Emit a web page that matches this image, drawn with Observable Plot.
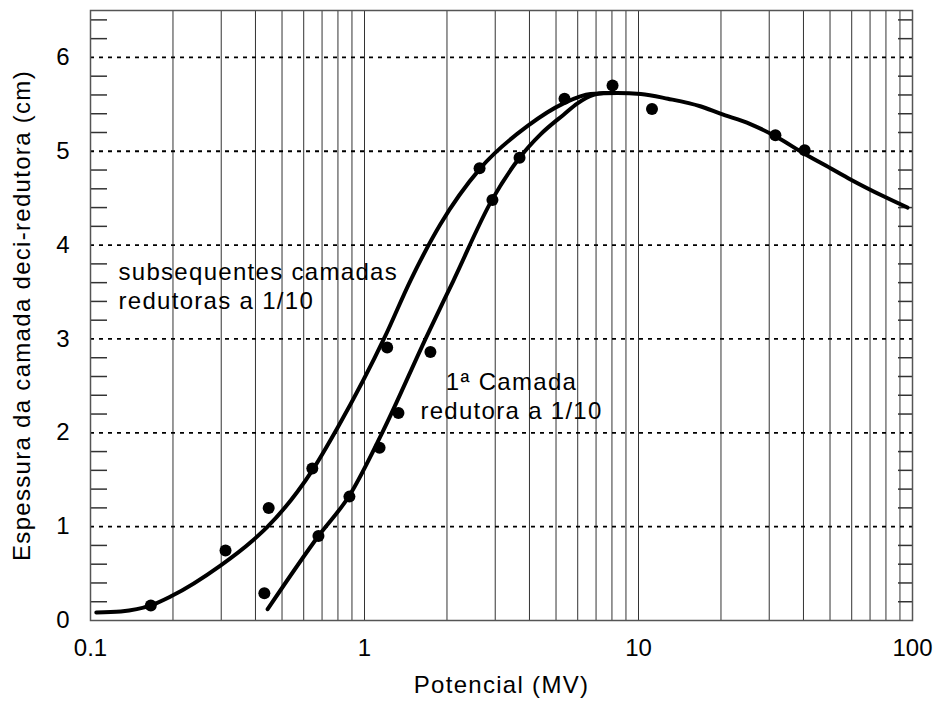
<!DOCTYPE html>
<html>
<head>
<meta charset="utf-8">
<script src="https://cdn.jsdelivr.net/npm/d3@7"></script>
<script src="https://cdn.jsdelivr.net/npm/@observablehq/plot@0.6"></script>
<style>
  html, body { margin: 0; padding: 0; background: #fff; }
  #chart svg { font-family: "Liberation Sans", Arial, sans-serif; }
  #chart g[aria-label="text"] text { letter-spacing: 1.3px; }
</style>
</head>
<body>
<div id="chart"></div>
<script>
// Axis tick labels
const xTickLabels = [0.1, 1, 10, 100];
const yTickLabels = [0, 1, 2, 3, 4, 5, 6];

// Measured points (Potencial MV, thickness cm)
const pointX = [0.166, 0.311, 0.431, 0.447, 0.645, 0.679, 0.881, 1.135, 1.21, 1.33, 1.74, 2.63, 2.93, 3.68, 5.37, 8.04, 11.2, 31.6, 40.4];
const pointY = [0.16, 0.745, 0.29, 1.20, 1.62, 0.90, 1.32, 1.84, 2.91, 2.21, 2.86, 4.82, 4.48, 4.93, 5.56, 5.70, 5.45, 5.17, 5.01];

// Curve: subsequentes camadas redutoras a 1/10
const subsX = [0.105, 0.129, 0.166, 0.196, 0.298, 0.390, 0.443, 0.645, 0.803, 1.19, 1.47, 1.89, 2.65, 3.94, 5.33, 6.68, 8.38, 10.2, 12.8, 16.8, 19.9, 25.6, 31.6, 40.0, 50.2, 59.4, 78.4, 95.9];
const subsY = [0.085, 0.096, 0.16, 0.255, 0.585, 0.85, 1.0, 1.60, 2.07, 3.03, 3.62, 4.22, 4.82, 5.27, 5.51, 5.61, 5.62, 5.61, 5.56, 5.48, 5.40, 5.29, 5.16, 4.98, 4.82, 4.70, 4.52, 4.40];

// Curve: 1ª camada redutora a 1/10
const firstX = [0.443, 0.679, 0.88, 1.16, 1.70, 2.11, 2.93, 3.68, 4.39, 5.33, 5.99, 6.85, 7.45, 8.38];
const firstY = [0.12, 0.90, 1.33, 2.0, 3.05, 3.62, 4.49, 4.93, 5.18, 5.39, 5.51, 5.60, 5.62, 5.62];

// Annotations
const annoText = ["subsequentes camadas\nredutoras a 1/10", "1ª Camada\nredutora a 1/10"];
const annoX = [0.1265, 3.44];
const annoY = [3.57, 2.40];
const annoAnchor = ["start", "middle"];

const xTitle = "Potencial (MV)";
const yTitle = "Espessura da camada deci-redutora (cm)";

// Derived tables
const points = pointX.map((x, i) => ({x, y: pointY[i]}));
const subs = subsX.map((x, i) => ({x, y: subsY[i]}));
const first = firstX.map((x, i) => ({x, y: firstY[i]}));
const annos = annoText.map((t, i) => ({t, x: annoX[i], y: annoY[i], a: annoAnchor[i]}));
const gridX = [];
for (const d of [0.1, 1, 10]) for (let k = 2; k <= 10; k++) gridX.push(+(d * k).toPrecision(3));
const gridX2 = gridX.filter(v => v < 100);
const minorY = d3.range(1, 33).map(k => k / 5).filter(v => Math.abs(v - Math.round(v)) > 1e-6);

const W = 939, H = 710, mL = 90, mR = 27, mT = 10, mB = 90;
const fw = W - mL - mR;

const chart = Plot.plot({
  width: W, height: H,
  marginLeft: mL, marginRight: mR, marginTop: mT, marginBottom: mB,
  style: {fontFamily: "Liberation Sans, Arial, sans-serif", fontSize: "24px", color: "#000", background: "#fff"},
  x: {type: "log", domain: [0.1, 100]},
  y: {domain: [0, 6.5]},
  marks: [
    Plot.ruleX(gridX2, {stroke: "#333", strokeWidth: 1}),
    Plot.ruleY([1, 2, 3, 4, 5, 6], {stroke: "#000", strokeWidth: 1.8, strokeDasharray: "4,5"}),
    Plot.ruleY(minorY, {stroke: "#333", strokeWidth: 1.5, insetRight: fw - 17}),
    Plot.ruleY(minorY, {stroke: "#333", strokeWidth: 1.5, insetLeft: fw - 14}),
    Plot.frame({stroke: "#555", strokeWidth: 1.5}),
    Plot.line(subs, {x: "x", y: "y", curve: "monotone-x", stroke: "#000", strokeWidth: 4}),
    Plot.line(first, {x: "x", y: "y", curve: "monotone-x", stroke: "#000", strokeWidth: 4}),
    Plot.dot(points, {x: "x", y: "y", r: 6, fill: "#000", stroke: "none"}),
    Plot.text(annos, {x: "x", y: "y", text: "t", textAnchor: "start", fontSize: 24, lineHeight: 1.2, fill: "#000", filter: d => d.a === "start"}),
    Plot.text(annos, {x: "x", y: "y", text: "t", textAnchor: "middle", fontSize: 24, lineHeight: 1.2, fill: "#000", filter: d => d.a === "middle"}),
    Plot.axisX({ticks: xTickLabels, tickSize: 0, tickPadding: 18, fontSize: 24, tickFormat: d => String(d), label: null}),
    Plot.axisY({ticks: yTickLabels, tickSize: 0, tickPadding: 21, fontSize: 24, tickFormat: d => String(d), label: null}),
    Plot.text([xTitle], {frameAnchor: "bottom", textAnchor: "middle", dy: 72, fontSize: 24, fill: "#000"}),
    Plot.text([yTitle], {frameAnchor: "left", textAnchor: "middle", dx: -68, rotate: -90, fontSize: 24, fill: "#000"})
  ]
});
document.getElementById("chart").appendChild(chart);
</script>
</body>
</html>
